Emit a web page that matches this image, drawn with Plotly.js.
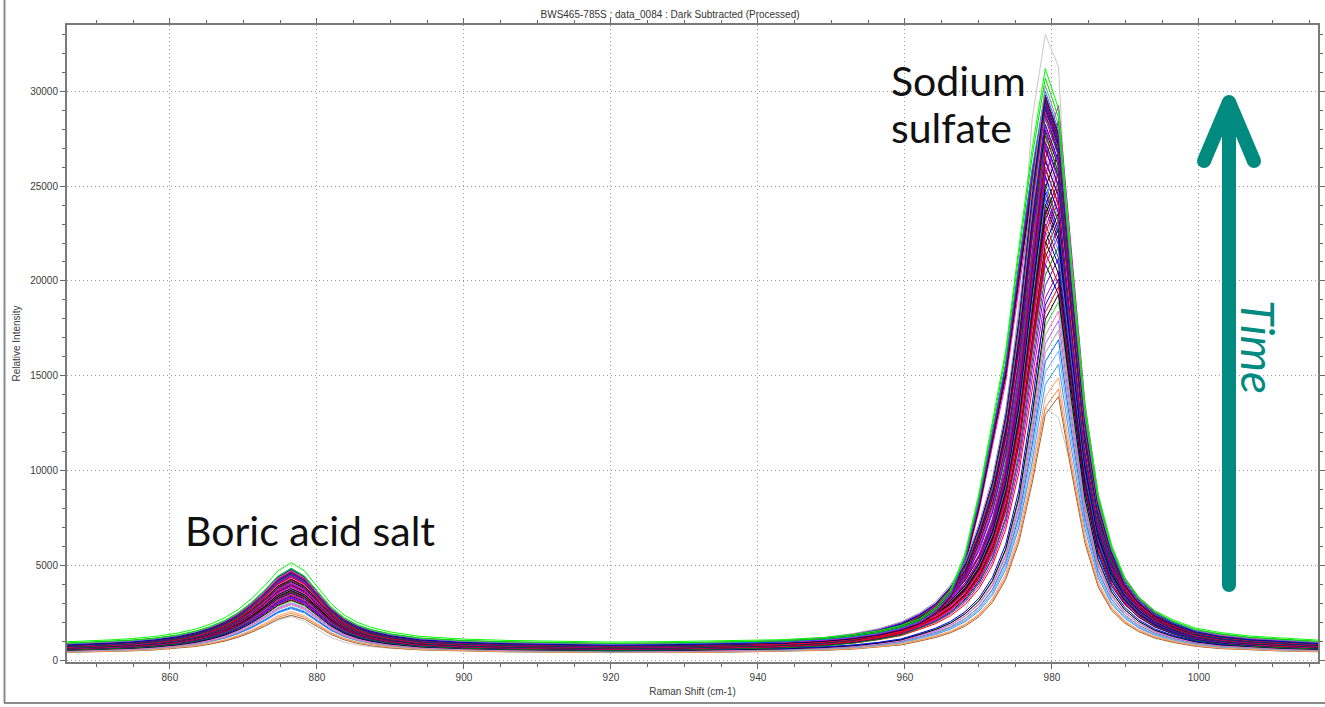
<!DOCTYPE html>
<html>
<head>
<meta charset="utf-8">
<script src="https://cdn.plot.ly/plotly-3.0.1.min.js"></script>
<style>html,body{margin:0;padding:0;background:#fff;}#chart{width:1325px;height:707px;}</style>
</head>
<body>
<div id="chart"></div>
<script>
// ---------- data ----------
const chartTitle = 'BWS465-785S : data_0084 : Dark Subtracted (Processed)';
const xTitle = 'Raman Shift (cm-1)';
const yTitle = 'Relative Intensity';
const xTickVals = [860, 880, 900, 920, 940, 960, 980, 1000];
const xTickText = ['860', '880', '900', '920', '940', '960', '980', '1000'];
const yTickVals = [0, 5000, 10000, 15000, 20000, 25000, 30000];
const yTickText = ['0', '5000', '10000', '15000', '20000', '25000', '30000'];

// wavenumber sample points (cm-1)
const wavenumbers = [846, 849, 852, 855, 858, 861, 863.5, 865.5, 867.5, 869.3, 871.1, 872.9, 874.7, 876.5,
  878.3, 880.1, 881.9, 883.7, 885.5, 887.3, 890, 894, 900, 906, 913, 920, 928, 936, 943, 949, 953, 956.5, 959.5,
  962, 964.2, 966.2, 968.2, 970.1, 971.9, 973.7, 975.5, 977.3,
  979.1, 980.9, 982.7, 984.5, 986.3, 988.1, 989.9, 991.8, 994, 996.5, 999.5, 1003, 1007, 1011, 1016.2];

// shape of the boric acid salt band (fraction of its height above baseline)
const boricShape = [0.035, 0.045, 0.058, 0.075, 0.10, 0.14, 0.19, 0.25, 0.33, 0.43, 0.56, 0.72, 0.90, 1.0,
  0.90, 0.70, 0.50, 0.36, 0.27, 0.21, 0.15, 0.095, 0.06, 0.04, 0.027, 0.014, 0.01, 0.007, 0.005, 0.004, 0.004, 0.003, 0.003,
  0.002, 0.002, 0.002, 0.002, 0.002, 0.002, 0.002, 0.002, 0.002,
  0.001, 0.001, 0.001, 0, 0, 0, 0, 0, 0, 0, 0, 0, 0, 0, 0];

// shapes of the sodium sulfate band (fraction of its height above baseline)
const sulfateShapeLow = [0.001, 0.001, 0.001, 0.001, 0.001, 0.001, 0.001, 0.001, 0.001, 0.001, 0.001, 0.001, 0.001, 0.001,
  0.0014, 0.0014, 0.0014, 0.0014, 0.0014, 0.0014, 0.0016, 0.0018, 0.002, 0.0023, 0.0028, 0.003, 0.0042, 0.0062, 0.0092, 0.0135, 0.0185, 0.026, 0.035,
  0.05, 0.064, 0.082, 0.108, 0.145, 0.2, 0.288, 0.434, 0.662,
  0.93, 1.0, 0.70, 0.43, 0.26, 0.17, 0.12, 0.087, 0.062, 0.045, 0.03, 0.021, 0.0155, 0.012, 0.0087];
const sulfateShapeMidA = [0.001, 0.001, 0.001, 0.001, 0.001, 0.001, 0.001, 0.001, 0.001, 0.001, 0.001, 0.001, 0.001, 0.001,
  0.0014, 0.0014, 0.0014, 0.0014, 0.0014, 0.0014, 0.0016, 0.0018, 0.0021, 0.0025, 0.0028, 0.0032, 0.0048, 0.0074, 0.011, 0.0165, 0.023, 0.033, 0.045,
  0.0625, 0.08, 0.103, 0.136, 0.183, 0.253, 0.363, 0.534, 0.772,
  1.0, 0.92, 0.66, 0.41, 0.255, 0.17, 0.122, 0.089, 0.064, 0.046, 0.03, 0.021, 0.0155, 0.012, 0.0087];
const sulfateShapeMidB = [0.001, 0.001, 0.001, 0.001, 0.001, 0.001, 0.001, 0.001, 0.001, 0.001, 0.001, 0.001, 0.001, 0.001,
  0.0014, 0.0014, 0.0014, 0.0014, 0.0014, 0.0014, 0.0016, 0.0018, 0.0021, 0.0025, 0.0028, 0.0032, 0.0048, 0.0074, 0.0105, 0.016, 0.0225, 0.032, 0.043,
  0.06, 0.076, 0.0975, 0.128, 0.172, 0.235, 0.333, 0.489, 0.716,
  0.93, 1.0, 0.72, 0.45, 0.28, 0.185, 0.13, 0.094, 0.067, 0.048, 0.031, 0.022, 0.016, 0.012, 0.0089];
const sulfateShapeMidWide = [0.0011, 0.0011, 0.0011, 0.0011, 0.0011, 0.0011, 0.0011, 0.0011, 0.0011, 0.0011, 0.0011, 0.0011, 0.0011, 0.0011,
  0.0014, 0.0014, 0.0014, 0.0014, 0.0014, 0.0014, 0.0017, 0.0019, 0.0022, 0.0026, 0.003, 0.0035, 0.0052, 0.0075, 0.011, 0.016, 0.023, 0.032, 0.044,
  0.06, 0.08, 0.11, 0.15, 0.22, 0.30, 0.42, 0.596, 0.819,
  1.0, 0.93, 0.66, 0.41, 0.258, 0.174, 0.12, 0.087, 0.062, 0.045, 0.03, 0.021, 0.0155, 0.012, 0.0087];
const sulfateShapeHigh = [0.0012, 0.0012, 0.0012, 0.0012, 0.0012, 0.0012, 0.0012, 0.0012, 0.0012, 0.0012, 0.0012, 0.0012, 0.0012, 0.0012,
  0.0015, 0.0015, 0.0015, 0.0015, 0.0015, 0.0015, 0.0018, 0.002, 0.0023, 0.0028, 0.0032, 0.0036, 0.005, 0.0065, 0.009, 0.013, 0.018, 0.025, 0.034,
  0.046, 0.065, 0.095, 0.16, 0.265, 0.39, 0.51, 0.69, 0.86,
  1.0, 0.93, 0.66, 0.415, 0.262, 0.175, 0.117, 0.084, 0.06, 0.044, 0.03, 0.022, 0.016, 0.0125, 0.009];

// one entry per spectrum, in time order (oldest first)
const sulfateTop = [13900, 14300, 14900, 15600, 16300, 16900, 17400, 17900, 18400, 18900,
  19300, 19700, 20100, 20500, 20900, 21200, 21500, 21800, 22100, 22400,
  22600, 22800, 23000, 23200, 23400, 23600, 23750, 23900, 24050, 24200,
  24350, 24500, 24650, 24800, 24950, 25100, 25250, 25400, 25550, 25700,
  25850, 26000, 26150, 26300, 26450, 26600, 26750, 26900, 27050, 27200,
  27350, 27500, 27650, 27800, 27950, 28100, 28250, 28400, 28550, 28700,
  28750, 28820, 28890, 28960, 29030, 29100, 29170, 29240, 29310, 29380,
  29450, 29500, 29550, 29620, 29700, 29800, 30000, 30300, 30700, 31200];
const boricTop = [2350, 2450, 2550, 2700, 2800, 2750, 2900, 3000, 2950, 3100,
  3150, 3200, 3250, 3300, 3350, 3300, 3400, 3450, 3500, 3450,
  3550, 3600, 3550, 3650, 3700, 3650, 3750, 3800, 3750, 3850,
  3900, 3850, 3950, 4000, 3950, 4050, 4100, 4050, 4150, 4200,
  4150, 4250, 4300, 4250, 4350, 4300, 4400, 4350, 4450, 4400,
  4500, 4450, 4550, 4500, 4600, 4550, 4600, 4650, 4600, 4700,
  4650, 4700, 4600, 4750, 4650, 4700, 4550, 4750, 4650, 4700,
  4600, 4750, 4700, 4650, 4750, 4700, 4800, 4700, 4800, 5100];
const baseLevel = [320, 350, 330, 380, 360, 400, 340, 420, 380, 440,
  400, 460, 420, 480, 440, 500, 460, 400, 520, 480,
  440, 530, 490, 450, 540, 500, 460, 550, 510, 470,
  560, 520, 480, 570, 530, 490, 580, 540, 500, 590,
  550, 510, 600, 560, 520, 610, 570, 530, 620, 580,
  540, 630, 590, 550, 640, 600, 560, 650, 610, 570,
  660, 620, 580, 670, 630, 590, 680, 640, 600, 690,
  650, 610, 700, 660, 620, 710, 680, 700, 720, 780];
// 0 = low, 1 = mid (tip 979.1), 2 = mid (tip 980.9), 3 = mid-wide, 4 = high / broad
const shapeIndex = [0, 0, 0, 0, 0, 0, 0, 0, 0, 0,
  0, 2, 0, 2, 1, 2, 1, 2, 1, 2,
  1, 2, 1, 2, 1, 2, 1, 2, 1, 2,
  1, 2, 1, 3, 2, 1, 2, 3, 1, 2,
  3, 1, 2, 3, 1, 3, 2, 3, 1, 3,
  3, 2, 3, 1, 3, 4, 3, 2, 3, 4,
  3, 4, 1, 3, 4, 3, 4, 2, 4, 3,
  4, 3, 4, 4, 3, 4, 4, 3, 4, 4];

// the two light grey spectra
const grayHigh = [750, 790, 850, 920, 1025, 1195, 1410, 1660, 2000, 2430, 2980, 3660, 4430, 4850,
  4430, 3580, 2730, 2130, 1750, 1490, 1240, 1000, 860, 770, 715, 660, 650, 650, 680, 730, 780, 850, 940,
  1080, 1300, 1700, 2600, 4300, 7000, 11500, 19000, 28500,
  33000, 31300, 17500, 8200, 4400, 3000, 2300, 1750, 1300, 1000, 800, 680, 620, 590, 570];
const grayLow = [467, 486, 510, 543, 590, 666, 761, 875, 1027, 1217, 1464, 1768, 2110, 2300,
  2050, 1600, 1200, 950, 800, 710, 620, 560, 520, 500, 490, 485, 490, 510, 550, 620, 700, 810, 940,
  1200, 1420, 1700, 2100, 2700, 3550, 4900, 7100, 10300,
  13300, 12800, 10000, 7200, 5000, 3500, 2400, 1700, 1200, 950, 750, 620, 560, 520, 500];

// ---------- styles ----------
const lowColors = ['#996633', '#ff8040', '#ffa366', '#3399ff', '#66b3ff', '#0066ff', '#a0a0a0', '#9966ff', '#ff66cc', '#33cc33'];
const midColors = ['#000000', '#ff0000', '#0000ff', '#cc00cc', '#000080', '#8000ff', '#c00000', '#008000', '#000000',
  '#ff00ff', '#0000c0', '#800000', '#404040', '#ff0000', '#3399ff', '#000000', '#6600cc', '#ff80c0'];
const topColors = ['#0080ff', '#909090', '#00e000', '#00ff00'];
const shapes = [sulfateShapeLow, sulfateShapeMidA, sulfateShapeMidB, sulfateShapeMidWide, sulfateShapeHigh];

const traces = [];
traces.push({x: wavenumbers, y: grayLow, type: 'scatter', mode: 'lines', line: {color: '#c8c8c8', width: 1}, hoverinfo: 'skip'});
traces.push({x: wavenumbers, y: grayHigh, type: 'scatter', mode: 'lines', line: {color: '#c8c8c8', width: 1}, hoverinfo: 'skip'});
const n = sulfateTop.length;
for (let i = 0; i < n; i++) {
  const b = baseLevel[i];
  const sh = shapes[shapeIndex[i]];
  const y = wavenumbers.map((_, j) => Math.round(b + (boricTop[i] - b) * boricShape[j] + (sulfateTop[i] - b) * sh[j]));
  let c;
  if (i < lowColors.length) c = lowColors[i];
  else if (i >= n - topColors.length) c = topColors[i - (n - topColors.length)];
  else c = midColors[(i - lowColors.length) % midColors.length];
  traces.push({x: wavenumbers, y: y, type: 'scatter', mode: 'lines', line: {color: c, width: 1}, hoverinfo: 'skip'});
}

// ---------- layout helpers (pixel -> paper) ----------
const L = 67, R = 1318, T = 25, B = 662;
const px = v => (v - L) / (R - L);
const py = v => (B - v) / (B - T);
const teal = '#008a80';
const arrowW = 14;
const rr = 7;
function cap(cx, cy) {
  return {type: 'circle', xref: 'paper', yref: 'paper', x0: px(cx - rr), x1: px(cx + rr), y0: py(cy + rr), y1: py(cy - rr),
    fillcolor: teal, line: {width: 0}, layer: 'above'};
}
function seg(x0, y0, x1, y1, col, w) {
  return {type: 'line', xref: 'paper', yref: 'paper', x0: px(x0), y0: py(y0), x1: px(x1), y1: py(y1),
    line: {color: col, width: w}, layer: 'above'};
}
const layoutShapes = [
  seg(1229, 585, 1229, 102, teal, arrowW),
  seg(1229, 102, 1204, 161, teal, arrowW),
  seg(1229, 102, 1254, 161, teal, arrowW),
  cap(1229, 585), cap(1229, 102), cap(1204, 161), cap(1254, 161),
  seg(4.5, 0, 4.5, 703, '#8a8a8a', 2),
  seg(4, 703, 1325, 703, '#8a8a8a', 2)
];

const tickFont = {family: 'Liberation Sans, Arial, sans-serif', size: 10, color: '#3c3c3c'};
const gridDash = '1px,3px';
const layout = {
  width: 1325, height: 707,
  margin: {l: L, r: 1325 - R, t: T, b: 707 - B, pad: 0},
  paper_bgcolor: '#ffffff', plot_bgcolor: '#ffffff',
  showlegend: false,
  title: {text: chartTitle, xref: 'container', yref: 'container', x: 0.5057, y: 0.980, xanchor: 'center', yanchor: 'middle',
    font: {family: 'Liberation Sans, Arial, sans-serif', size: 10, color: '#333333'}},
  xaxis: {
    range: [846, 1016.2], tickmode: 'array', tickvals: xTickVals, ticktext: xTickText,
    ticks: 'outside', ticklen: 5, tickwidth: 1, tickcolor: '#666666',
    showline: true, linecolor: '#7a7a7a', linewidth: 2, mirror: 'ticks',
    showgrid: true, gridcolor: '#999999', griddash: gridDash, gridwidth: 1, zeroline: false,
    minor: {tick0: 845, dtick: 5, ticks: 'outside', ticklen: 3, tickcolor: '#666666', showgrid: false},
    tickfont: tickFont,
    title: {text: xTitle, standoff: 6, font: tickFont}
  },
  yaxis: {
    range: [-100, 33500], tickmode: 'array', tickvals: yTickVals, ticktext: yTickText,
    ticks: 'outside', ticklen: 5, tickwidth: 1, tickcolor: '#666666',
    showline: true, linecolor: '#7a7a7a', linewidth: 2, mirror: 'ticks',
    showgrid: true, gridcolor: '#999999', griddash: gridDash, gridwidth: 1, zeroline: false,
    minor: {tick0: 0, dtick: 1000, ticks: 'outside', ticklen: 3, tickcolor: '#666666', showgrid: false},
    tickfont: tickFont,
    title: {text: yTitle, standoff: 8, font: tickFont}
  },
  shapes: layoutShapes,
  annotations: [
    {text: 'Sodium', xref: 'paper', yref: 'paper', x: px(889), y: py(80), xanchor: 'left', yanchor: 'middle', align: 'left',
      showarrow: false, font: {family: 'Lato, Open Sans, sans-serif', size: 41, color: '#111111'}},
    {text: 'sulfate', xref: 'paper', yref: 'paper', x: px(889), y: py(127), xanchor: 'left', yanchor: 'middle', align: 'left',
      showarrow: false, font: {family: 'Lato, Open Sans, sans-serif', size: 41, color: '#111111'}},
    {text: 'Boric acid salt', xref: 'paper', yref: 'paper', x: px(183), y: py(530), xanchor: 'left', yanchor: 'middle',
      showarrow: false, font: {family: 'Lato, Open Sans, sans-serif', size: 41, color: '#111111'}},
    {text: 'Time', xref: 'paper', yref: 'paper', x: px(1259), y: py(347), xanchor: 'center', yanchor: 'middle', textangle: 90,
      showarrow: false, font: {family: 'Lato, Open Sans, sans-serif', size: 46, color: teal, style: 'italic'}}
  ]
};

Plotly.newPlot('chart', traces, layout, {staticPlot: true, displayModeBar: false});
</script>
</body>
</html>
